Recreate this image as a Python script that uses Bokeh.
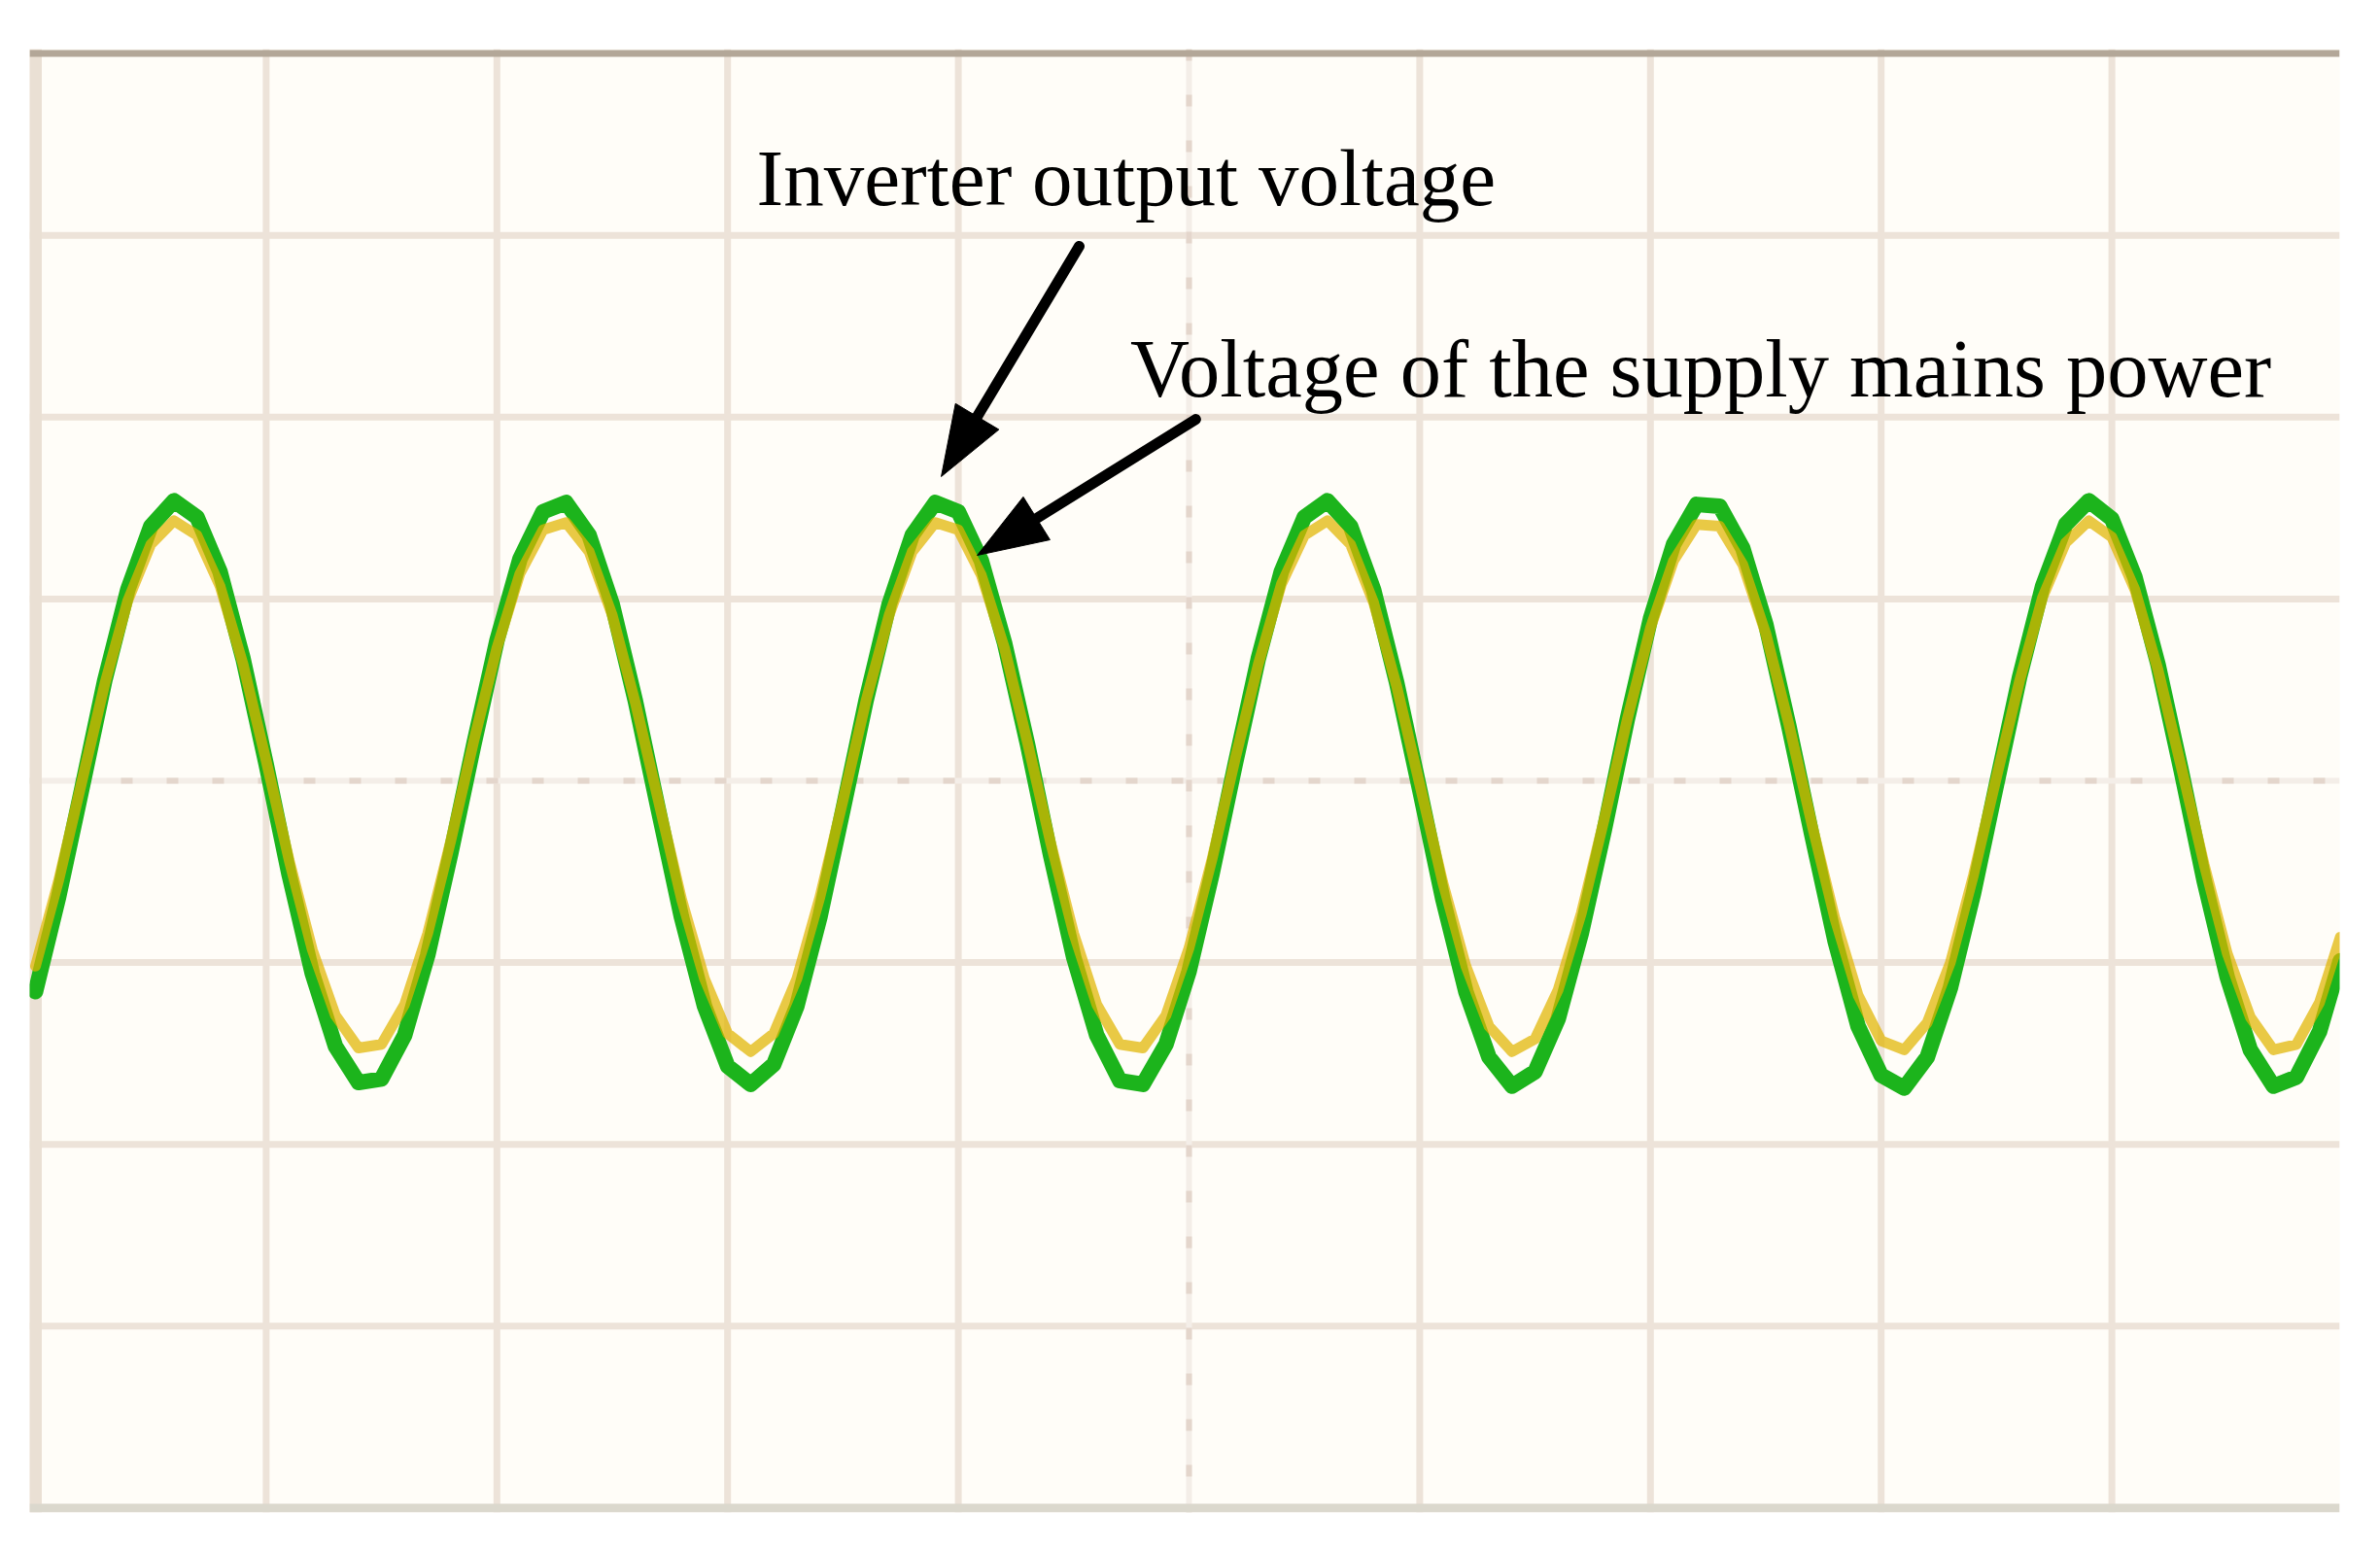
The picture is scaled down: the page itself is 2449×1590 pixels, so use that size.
import numpy as np
from bokeh.plotting import figure
from bokeh.models import Span, Range1d, ColumnDataSource
from bokeh.core.properties import value
from bokeh.embed import file_html
from bokeh.resources import INLINE

# ---- data (oscilloscope divisions) ----
TIME_DIV = [round(i * 0.1, 1) for i in range(100)] + [9.99]

SUPPLY_MAINS = [
    -1.02, -0.55, -0.01, 0.53, 0.99, 1.30, 1.43, 1.35, 1.07, 0.64,
    0.11, -0.44, -0.93, -1.29, -1.47, -1.45, -1.23, -0.84, -0.33, 0.22,
    0.73, 1.14, 1.38, 1.42, 1.26, 0.91, 0.43, -0.11, -0.65, -1.09,
    -1.39, -1.49, -1.39, -1.09, -0.64, -0.11, 0.44, 0.91, 1.26, 1.42,
    1.38, 1.13, 0.73, 0.21, -0.34, -0.84, -1.23, -1.45, -1.47, -1.29,
    -0.92, -0.43, 0.12, 0.64, 1.08, 1.35, 1.43, 1.30, 0.98, 0.52,
    -0.02, -0.56, -1.02, -1.35, -1.49, -1.42, -1.15, -0.73, -0.21, 0.34,
    0.84, 1.21, 1.41, 1.40, 1.19, 0.81, 0.31, -0.24, -0.76, -1.18,
    -1.43, -1.48, -1.33, -1.00, -0.52, 0.02, 0.55, 1.01, 1.31, 1.43,
    1.34, 1.05, 0.61, 0.08, -0.46, -0.95, -1.30, -1.48, -1.45, -1.22,
    -0.86,
]

INVERTER_OUT = [
    -1.16, -0.64, -0.05, 0.55, 1.05, 1.40, 1.54, 1.45, 1.15, 0.67,
    0.09, -0.52, -1.06, -1.46, -1.66, -1.64, -1.40, -0.96, -0.40, 0.20,
    0.77, 1.22, 1.48, 1.53, 1.35, 0.97, 0.44, -0.16, -0.75, -1.24,
    -1.57, -1.67, -1.56, -1.24, -0.75, -0.16, 0.44, 0.97, 1.35, 1.53,
    1.48, 1.21, 0.76, 0.20, -0.41, -0.97, -1.40, -1.65, -1.67, -1.45,
    -1.05, -0.51, 0.09, 0.67, 1.15, 1.45, 1.54, 1.40, 1.05, 0.54,
    -0.05, -0.65, -1.16, -1.52, -1.68, -1.60, -1.31, -0.84, -0.27, 0.34,
    0.89, 1.30, 1.52, 1.51, 1.28, 0.86, 0.30, -0.30, -0.88, -1.35,
    -1.62, -1.69, -1.52, -1.14, -0.62, -0.02, 0.57, 1.07, 1.41, 1.54,
    1.44, 1.12, 0.64, 0.06, -0.55, -1.08, -1.48, -1.68, -1.63, -1.38,
    -0.99,
]

GRID_X = [1, 2, 3, 4, 6, 7, 8, 9]
GRID_Y = [-3, -2, -1, 1, 2, 3]
CENTER_X = 5
CENTER_Y = 0

LABELS = ["Inverter output voltage", "Voltage of the supply mains power"]
LABEL_X = [3.126, 4.745]
LABEL_Y = [3.319, 2.266]
LABEL_SIZE = ["83px", "84.5px"]

ARROW_FROM_X = [4.524, 5.029]
ARROW_FROM_Y = [2.940, 1.988]
ARROW_TO_X = [3.926, 4.082]
ARROW_TO_Y = [1.673, 1.240]

# ---- layout ----
PX_X = 237.4   # pixels per horizontal division
PX_Y = 187.1   # pixels per vertical division

p = figure(width=2449, height=1590, title=None,
           x_range=Range1d(-0.0253, 9.9874), y_range=Range1d(-4.0246, 4.0246),
           output_backend="svg", toolbar_location=None,
           x_axis_location=None, y_axis_location=None,
           min_border_left=30, min_border_right=42,
           min_border_top=50, min_border_bottom=34,
           background_fill_color="#fffdf8", border_fill_color="white",
           outline_line_color=None)
p.grid.visible = False

grid_col = "#ede3d9"
for gx in GRID_X:
    p.add_layout(Span(location=gx, dimension="height", line_color=grid_col,
                      line_width=7, level="underlay"))
for gy in GRID_Y:
    p.add_layout(Span(location=gy, dimension="width", line_color=grid_col,
                      line_width=7, level="underlay"))

# center lines (dotted graticule)
p.add_layout(Span(location=CENTER_X, dimension="height", line_color="#f4eee8",
                  line_width=6, level="underlay"))
p.add_layout(Span(location=CENTER_Y, dimension="width", line_color="#f4eee8",
                  line_width=6, level="underlay"))
p.add_layout(Span(location=CENTER_X, dimension="height", line_color="#e4d6cc",
                  line_width=6, line_dash="12 35", level="underlay"))
p.add_layout(Span(location=CENTER_Y, dimension="width", line_color="#e4d6cc",
                  line_width=6, line_dash="12 35", level="underlay"))

# screen borders
p.add_layout(Span(location=0, dimension="height", line_color="#eae0d4",
                  line_width=13, level="underlay"))
p.add_layout(Span(location=-4, dimension="width", line_color="#dbd8cd",
                  line_width=9, level="underlay"))
p.add_layout(Span(location=4, dimension="width", line_color="#b3a798",
                  line_width=7, level="underlay"))

# traces
p.line(TIME_DIV, INVERTER_OUT, line_color="#1cb41c", line_width=16,
       line_join="round", line_cap="round")
p.line(TIME_DIV, SUPPLY_MAINS, line_color="#e0b400", line_width=11,
       line_alpha=0.72, line_join="round", line_cap="round")

# arrows (shaft + triangular head), geometry in pixels then back to divisions
HEAD_LEN = 72.0
HEAD_W = 52.0
shaft_x0, shaft_y0, shaft_x1, shaft_y1 = [], [], [], []
head_xs, head_ys = [], []
for sx, sy, tx, ty in zip(ARROW_FROM_X, ARROW_FROM_Y, ARROW_TO_X, ARROW_TO_Y):
    spx, spy = sx * PX_X, sy * PX_Y
    tpx, tpy = tx * PX_X, ty * PX_Y
    dx, dy = tpx - spx, tpy - spy
    d = np.hypot(dx, dy)
    ux, uy = dx / d, dy / d
    nx, ny = -uy, ux
    bx, by = tpx - HEAD_LEN * ux, tpy - HEAD_LEN * uy
    shaft_x0.append(sx)
    shaft_y0.append(sy)
    shaft_x1.append((bx + 6 * ux) / PX_X)
    shaft_y1.append((by + 6 * uy) / PX_Y)
    head_xs.append([tpx / PX_X, (bx + HEAD_W / 2 * nx) / PX_X, (bx - HEAD_W / 2 * nx) / PX_X])
    head_ys.append([tpy / PX_Y, (by + HEAD_W / 2 * ny) / PX_Y, (by - HEAD_W / 2 * ny) / PX_Y])

p.segment(x0=shaft_x0, y0=shaft_y0, x1=shaft_x1, y1=shaft_y1,
          line_color="black", line_width=11, line_cap="round")
p.patches(xs=head_xs, ys=head_ys, fill_color="black", line_color="black",
          line_width=1)

# labels
label_src = ColumnDataSource(dict(x=LABEL_X, y=LABEL_Y, text=LABELS, size=LABEL_SIZE))
p.text(x="x", y="y", text="text", source=label_src,
       text_font=value("Liberation Serif"), text_font_size="size",
       text_color="black", text_align="left", text_baseline="alphabetic")

open("out.html", "w").write(file_html(p, INLINE))
